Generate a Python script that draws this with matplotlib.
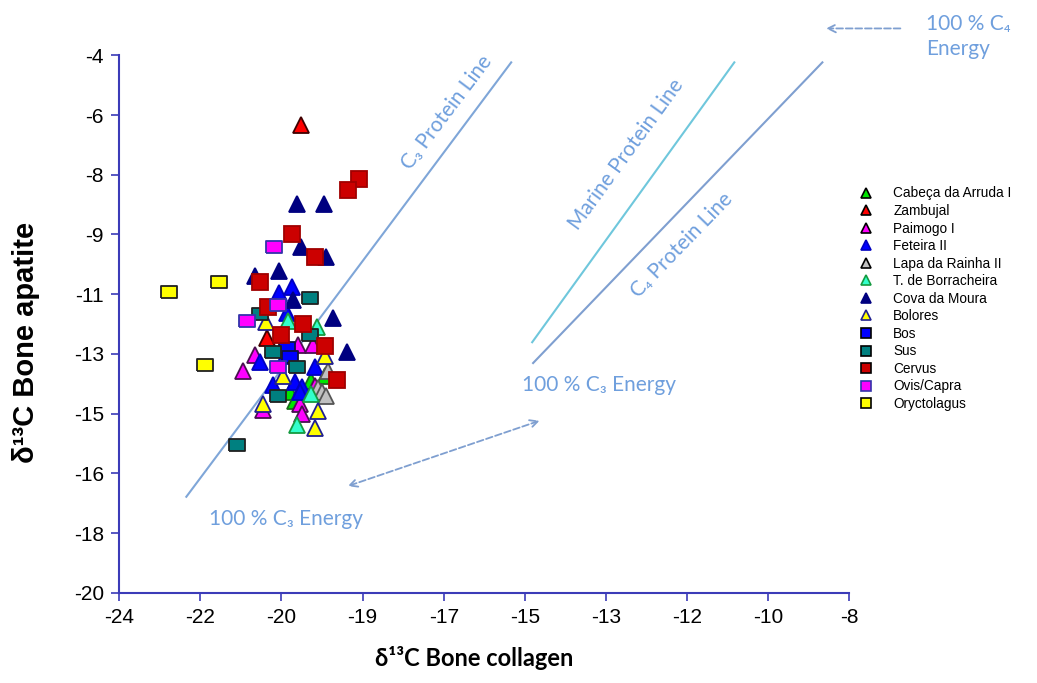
import numpy as np
import matplotlib
matplotlib.use("Agg")
import matplotlib.pyplot as plt
from matplotlib.lines import Line2D

plt.rcParams["axes.unicode_minus"] = False

# site / species values (collagen, apatite)
arruda_x = [-19.49, -19.79, -20.25, -20.14]
arruda_y = [-13.56, -13.68, -14.01, -14.30]
zambujal_x = [-20.01, -20.76]
zambujal_y = [-6.08, -12.42]
paimogo_x = [-21.02, -21.28, -20.08, -19.75, -19.70, -20.03, -20.84, -19.99]
paimogo_y = [-12.91, -13.40, -12.62, -12.62, -13.84, -14.38, -14.56, -14.69]
feteira_x = [-20.49, -20.21, -20.32, -20.91, -20.36, -19.70, -20.62, -20.14, -19.99, -20.03]
feteira_y = [-11.08, -10.90, -11.67, -13.12, -12.95, -13.29, -13.81, -13.72, -13.87, -14.01]
lapa_x = [-19.42, -19.64, -19.55, -19.46]
lapa_y = [-13.40, -13.90, -14.01, -14.13]
borracheira_x = [-20.30, -19.66, -19.79, -20.10]
borracheira_y = [-11.91, -12.09, -14.07, -15.00]
cova_x = [-20.10, -19.51, -20.01, -19.46, -20.49, -21.02, -20.19, -19.31, -19.00]
cova_y = [-8.43, -8.43, -9.71, -10.01, -10.42, -10.57, -11.29, -11.82, -12.83]
bolores_x = [-20.78, -19.49, -20.41, -20.84, -19.64, -19.70]
bolores_y = [-11.94, -12.95, -13.56, -14.38, -14.60, -15.09]
bos_x = [-20.32, -20.25]
bos_y = [-12.71, -12.98]
sus_x = [-19.81, -20.91, -19.81, -20.62, -20.10, -20.52, -21.41]
sus_y = [-11.23, -11.70, -12.33, -12.83, -13.29, -14.13, -15.61]
cervus_x = [-18.74, -18.98, -20.21, -19.70, -20.91, -20.73, -19.97, -20.45, -19.49, -19.22]
cervus_y = [-7.69, -8.01, -9.32, -10.01, -10.75, -11.49, -12.00, -12.33, -12.65, -13.67]
ovis_x = [-20.60, -20.52, -21.19, -20.52]
ovis_y = [-9.71, -11.43, -11.91, -13.29]
orycto_x = [-22.90, -21.81, -22.12]
orycto_y = [-11.05, -10.75, -13.22]

# reference lines
c3_line_x = [-22.53, -15.41]
c3_line_y = [-17.14, -4.21]
marine_line_x = [-14.95, -10.52]
marine_line_y = [-12.54, -4.21]
c4_line_x = [-14.93, -8.59]
c4_line_y = [-13.16, -4.21]

blue_txt = "#6f9fdd"
axis_col = "#3b3bb8"
rect = [(-1.3, -1), (1.3, -1), (1.3, 1), (-1.3, 1), (-1.3, -1)]

fig = plt.figure(figsize=(10.37, 6.83), dpi=100)
ax = fig.add_axes([0.115, 0.132, 0.704, 0.787])

ax.plot(c3_line_x, c3_line_y, color="#7fa6d8", lw=1.5, zorder=1)
ax.plot(marine_line_x, marine_line_y, color="#6fc7dc", lw=1.5, zorder=1)
ax.plot(c4_line_x, c4_line_y, color="#7f9fd0", lw=1.5, zorder=1)

series = [
    # label, x, y, marker, face, edge, size
    ("Cabeça da Arruda I", arruda_x, arruda_y, "^", "#00e600", "#1a6b1a", 12),
    ("Zambujal", zambujal_x, zambujal_y, "^", "#ff0000", "#400000", 12),
    ("Paimogo I", paimogo_x, paimogo_y, "^", "#ff00ff", "#4a1050", 12),
    ("Feteira II", feteira_x, feteira_y, "^", "#0000ff", "#0000c0", 12),
    ("Lapa da Rainha II", lapa_x, lapa_y, "^", "#c0c0c0", "#555555", 12),
    ("T. de Borracheira", borracheira_x, borracheira_y, "^", "#33ffcc", "#159a40", 12),
    ("Cova da Moura", cova_x, cova_y, "^", "#000080", "#000080", 12),
    ("Bolores", bolores_x, bolores_y, "^", "#ffff00", "#202090", 12),
    ("Bos", bos_x, bos_y, rect, "#0000ff", "#101040", 11),
    ("Sus", sus_x, sus_y, rect, "#008080", "#202020", 11),
    ("Cervus", cervus_x, cervus_y, "s", "#cc0000", "#a00000", 12),
    ("Ovis/Capra", ovis_x, ovis_y, rect, "#ff00ff", "#3333aa", 11),
    ("Oryctolagus", orycto_x, orycto_y, rect, "#ffff00", "#202020", 11),
]

handles = []
for label, xs, ys, mk, fc, ec, ms in series:
    ax.plot(xs, ys, linestyle="none", marker=mk, ms=ms, mfc=fc, mec=ec, mew=1.3, zorder=3)
    hmk = "s" if mk != "^" else "^"
    hec = ec if label in ("Feteira II", "Cova da Moura", "Bolores", "T. de Borracheira", "Ovis/Capra") else "black"
    handles.append(Line2D([], [], linestyle="none", marker=hmk, ms=6.5, mfc=fc, mec=hec, mew=1.2))

ax.set_xlim(-24, -8)
ax.set_ylim(-20, -4)
ax.set_xticks(np.linspace(-24, -8, 10))
ax.set_yticks(np.linspace(-20, -4, 10))
ax.xaxis.set_major_formatter(matplotlib.ticker.StrMethodFormatter("{x:.0f}"))
ax.yaxis.set_major_formatter(matplotlib.ticker.StrMethodFormatter("{x:.0f}"))
for s in ("top", "right"):
    ax.spines[s].set_visible(False)
for s in ("left", "bottom"):
    ax.spines[s].set_color(axis_col)
    ax.spines[s].set_linewidth(1.5)
ax.tick_params(direction="out", length=6, width=1.2, color=axis_col,
               labelsize=15, pad=5)
for t in ax.get_xticklabels() + ax.get_yticklabels():
    t.set_fontfamily("Liberation Sans")

ax.set_xlabel("δ¹³C Bone collagen", fontsize=17, fontweight="bold",
              family=["Lato", "DejaVu Sans"])
ax.xaxis.set_label_coords(0.486, -0.098)
ax.set_ylabel("δ¹³C Bone apatite", fontsize=21, fontweight="bold",
              family=["Liberation Sans", "DejaVu Sans"])
ax.yaxis.set_label_coords(-0.108, 0.466)

tfam = ["Lato", "DejaVu Sans"]
ax.text(-16.81, -5.69, "C₃ Protein Line", rotation=53, color=blue_txt, fontsize=15,
        family=tfam, ha="center", va="center", rotation_mode="anchor")
ax.text(-12.89, -6.94, "Marine Protein Line", rotation=54, color=blue_txt, fontsize=15,
        family=tfam, ha="center", va="center", rotation_mode="anchor")
ax.text(-11.68, -9.65, "C₄ Protein Line", rotation=46, color=blue_txt, fontsize=15,
        family=tfam, ha="center", va="center", rotation_mode="anchor")
ax.text(-13.48, -13.81, "100 % C₃ Energy", color=blue_txt, fontsize=15,
        family=tfam, ha="center", va="center")
ax.text(-20.34, -17.80, "100 % C₃ Energy", color=blue_txt, fontsize=15,
        family=tfam, ha="center", va="center")
ax.text(-6.31, -3.45, "100 % C₄\nEnergy", color=blue_txt, fontsize=15,
        family=tfam, ha="left", va="center", linespacing=1.3, clip_on=False)

ax.annotate("", xy=(-8.57, -3.20), xytext=(-6.82, -3.20), annotation_clip=False,
            arrowprops=dict(arrowstyle="->", linestyle="--", color="#7f9fd0", lw=1.3,
                            mutation_scale=14))
ax.annotate("", xy=(-19.05, -16.85), xytext=(-14.73, -14.85),
            arrowprops=dict(arrowstyle="<->", linestyle="--", color="#7f9fd0", lw=1.3,
                            mutation_scale=14))

labels = [s[0] for s in series]
fig.legend(handles, labels, loc="upper left", bbox_to_anchor=(0.822, 0.737),
           frameon=False, handlelength=1.0, handletextpad=1.5,
           labelspacing=0.26, borderpad=0, prop={"family": "Liberation Sans", "size": 9.8})

fig.savefig("out.png", dpi=100)
